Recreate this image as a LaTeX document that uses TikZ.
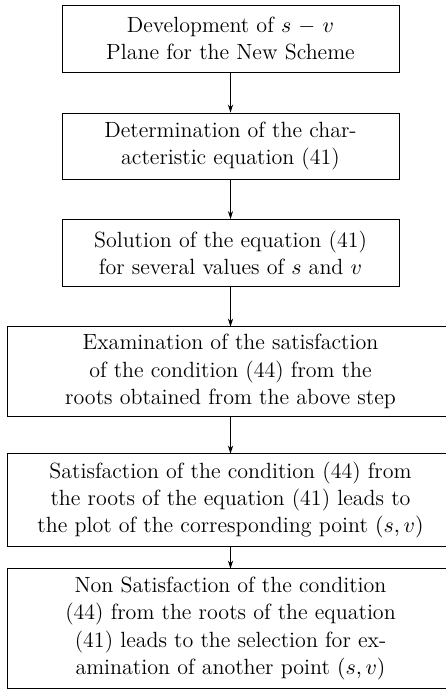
\documentclass[tikz,border=0pt]{standalone}
\usetikzlibrary{arrows.meta}
\begin{document}
\begin{tikzpicture}[x=1pt,y=1pt,
  flowbox/.style={draw, line width=0.45pt, rectangle, align=center, inner sep=0pt,
    font=\fontsize{11}{13.6}\selectfont},
  widebox/.style={rectangle, align=center, inner sep=0pt,
    font=\fontsize{11}{13.6}\selectfont},
  boxline/.style={line width=0.45pt},
  flowarrow/.style={line width=0.45pt, -{Stealth[length=4pt,width=2.6pt]}}]
\useasboundingbox (0,0) rectangle (222.5,-344.5);
\node[flowbox, minimum width=168.5pt, minimum height=33.5pt] (b1) at (115.25,-19.25)
  {Development of $s$ $-$ $v$\\Plane for the New Scheme};
\node[flowbox, minimum width=168.5pt, minimum height=33pt] (b2) at (115.25,-73)
  {Determination of the char-\\acteristic equation (41)};
\node[flowbox, minimum width=168.5pt, minimum height=33.5pt] (b3) at (115.25,-126.5)
  {Solution of the equation (41)\\for several values of $s$ and $v$};
\node[widebox, minimum width=222.5pt, minimum height=44.5pt] (b4) at (115.25,-185.75)
  {Examination of the satisfaction\\of the condition (44) from the\\roots obtained from the above step};
\node[widebox, minimum width=222.5pt, minimum height=46pt] (b5) at (115.25,-250)
  {Satisfaction of the condition (44) from\\the roots of the equation (41) leads to\\the plot of the corresponding point $(s,v)$};
\node[widebox, minimum width=222.5pt, minimum height=59.5pt] (b6) at (115.25,-314.25)
  {Non Satisfaction of the condition\\(44) from the roots of the equation\\(41) leads to the selection for ex-\\amination of another point $(s,v)$};
\draw[boxline] (b4.north west) rectangle ([xshift=20pt]b4.south east);
\draw[boxline] (b5.north west) rectangle ([xshift=20pt]b5.south east);
\draw[boxline] (b6.north west) rectangle ([xshift=20pt]b6.south east);
\draw[flowarrow] (b1) -- (b2);
\draw[flowarrow] (b2) -- (b3);
\draw[flowarrow] (b3) -- (b4);
\draw[flowarrow] (b4) -- (b5);
\draw[flowarrow] (b5) -- (b6);
\end{tikzpicture}
\end{document}
